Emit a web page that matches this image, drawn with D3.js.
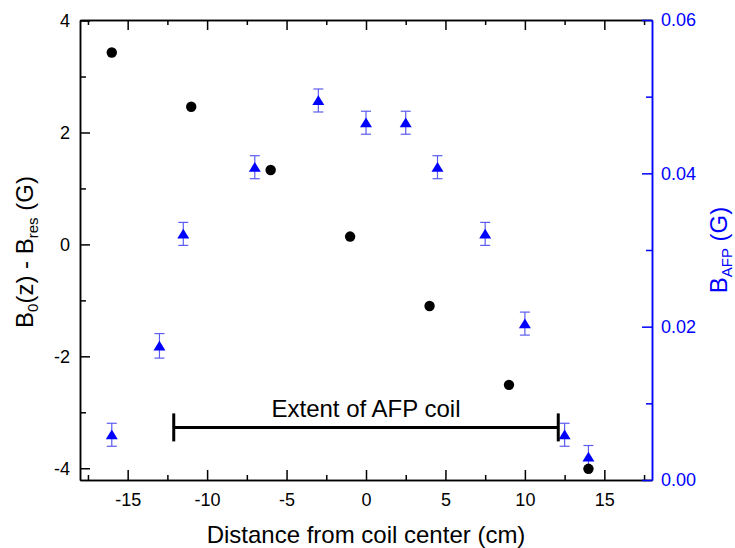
<!DOCTYPE html>
<html>
<head>
<meta charset="utf-8">
<script src="https://cdn.jsdelivr.net/npm/d3@7"></script>
<style>
  body { margin: 0; background: #fff; }
  svg { font-family: "Liberation Sans", Arial, sans-serif; }
</style>
</head>
<body>
<svg id="chart" width="735" height="548"></svg>
<script>
// black circles: B0(z) - Bres, left axis
const zCircle = [-16, -11, -6, -1, 4, 9, 14];
const bDiff = [3.43, 2.46, 1.33, 0.14, -1.10, -2.51, -4.01];

// blue triangles: B_AFP, right axis
const zTri = [-16, -13, -11.5, -7, -3, 0, 2.5, 4.5, 7.5, 10, 12.5, 14];
const bAfp = [0.0059, 0.0175, 0.0321, 0.0408, 0.0495, 0.0466, 0.0466, 0.0408, 0.0321, 0.0204, 0.0059, 0.0030];
const bAfpErr = [0.0015, 0.0016, 0.0015, 0.0015, 0.0015, 0.0015, 0.0015, 0.0015, 0.0015, 0.0015, 0.0015, 0.0015];

// tick values
const xMajor = [-15, -10, -5, 0, 5, 10, 15];
const xMinor = [-17.5, -12.5, -7.5, -2.5, 2.5, 7.5, 12.5, 17.5];
const yMajor = [-4, -2, 0, 2, 4];
const yMinor = [-3, -1, 1, 3];
const y2Major = [0, 0.02, 0.04, 0.06];
const y2Minor = [0.01, 0.03, 0.05];

// coil extent marker
const coilX = [-12.1, 12.1];
const coilY = -3.27;
const coilLabel = 'Extent of AFP coil';

const width = 735;
const height = 548;
const margin = { top: 20, right: 83, bottom: 68, left: 80 };
const innerW = width - margin.left - margin.right;
const innerH = height - margin.top - margin.bottom;
const blue = '#0000ff';

const x = d3.scaleLinear().domain([-18, 18]).range([0, innerW]);
const y = d3.scaleLinear().domain([-4.21, 4.01]).range([innerH, 0]);
const y2 = d3.scaleLinear().domain([0, 0.06]).range([innerH, 0]);

const svg = d3.select('#chart');
const g = svg.append('g')
  .attr('transform', `translate(${margin.left}, ${margin.top})`);

function styleAxis(sel, color) {
  sel.selectAll('path, line').attr('stroke', color).attr('stroke-width', 1.5);
  sel.selectAll('text').attr('fill', color).attr('font-size', '18px')
    .attr('font-family', '"Liberation Sans", Arial, sans-serif');
}

// bottom axis
g.append('g')
  .attr('transform', `translate(0, ${innerH})`)
  .call(d3.axisBottom(x).tickValues(xMajor).tickSize(-10).tickSizeOuter(0).tickPadding(13).tickFormat(d3.format('d')))
  .call(s => styleAxis(s, '#000'));
g.append('g')
  .attr('transform', `translate(0, ${innerH})`)
  .call(d3.axisBottom(x).tickValues(xMinor).tickSize(-5).tickSizeOuter(0).tickFormat(''))
  .call(s => styleAxis(s, '#000'));

// top axis (ticks only)
g.append('g')
  .call(d3.axisTop(x).tickValues(xMajor).tickSize(-10).tickSizeOuter(0).tickFormat(''))
  .call(s => styleAxis(s, '#000'));
g.append('g')
  .call(d3.axisTop(x).tickValues(xMinor).tickSize(-5).tickSizeOuter(0).tickFormat(''))
  .call(s => styleAxis(s, '#000'));

// left axis
g.append('g')
  .call(d3.axisLeft(y).tickValues(yMajor).tickSize(-10).tickSizeOuter(0).tickPadding(10).tickFormat(d3.format('d')))
  .call(s => styleAxis(s, '#000'));
g.append('g')
  .call(d3.axisLeft(y).tickValues(yMinor).tickSize(-6).tickSizeOuter(0).tickFormat(''))
  .call(s => styleAxis(s, '#000'));

// right axis (blue)
g.append('g')
  .attr('transform', `translate(${innerW}, 0)`)
  .call(d3.axisRight(y2).tickValues(y2Major).tickSize(-10).tickSizeOuter(0).tickPadding(9).tickFormat(d3.format('.2f')))
  .call(s => styleAxis(s, blue));
g.append('g')
  .attr('transform', `translate(${innerW}, 0)`)
  .call(d3.axisRight(y2).tickValues(y2Minor).tickSize(-6).tickSizeOuter(0).tickFormat(''))
  .call(s => styleAxis(s, blue));

// minus signs like the original (hyphen)
g.selectAll('.tick text').text(function() { return d3.select(this).text().replace('\u2212', '-'); });

// error bars for B_AFP
const triData = zTri.map((z, i) => ({ z: z, v: bAfp[i], e: bAfpErr[i] }));
const errCol = '#5c5cf0';
const err = g.append('g').selectAll('g').data(triData).enter().append('g');
err.append('line')
  .attr('x1', d => x(d.z)).attr('x2', d => x(d.z))
  .attr('y1', d => y2(d.v - d.e)).attr('y2', d => y2(d.v + d.e))
  .attr('stroke', errCol).attr('stroke-width', 1.2);
err.append('line')
  .attr('x1', d => x(d.z) - 5).attr('x2', d => x(d.z) + 5)
  .attr('y1', d => y2(d.v + d.e)).attr('y2', d => y2(d.v + d.e))
  .attr('stroke', errCol).attr('stroke-width', 1.2);
err.append('line')
  .attr('x1', d => x(d.z) - 5).attr('x2', d => x(d.z) + 5)
  .attr('y1', d => y2(d.v - d.e)).attr('y2', d => y2(d.v - d.e))
  .attr('stroke', errCol).attr('stroke-width', 1.2);

// triangles
g.append('g').selectAll('path').data(triData).enter().append('path')
  .attr('transform', d => `translate(${x(d.z)}, ${y2(d.v)})`)
  .attr('d', 'M0,-5.2L6,4.6L-6,4.6Z')
  .attr('fill', blue);

// circles
g.append('g').selectAll('circle').data(zCircle).enter().append('circle')
  .attr('cx', d => x(d))
  .attr('cy', (d, i) => y(bDiff[i]))
  .attr('r', 5.2)
  .attr('fill', '#000');

// coil extent bar
const coil = g.append('g').attr('stroke', '#000').attr('stroke-width', 3);
coil.append('line')
  .attr('x1', x(coilX[0])).attr('x2', x(coilX[1]))
  .attr('y1', y(coilY)).attr('y2', y(coilY));
coilX.forEach(cx => {
  coil.append('line')
    .attr('x1', x(cx)).attr('x2', x(cx))
    .attr('y1', y(coilY) - 14).attr('y2', y(coilY) + 14);
});
g.append('text')
  .attr('x', x((coilX[0] + coilX[1]) / 2))
  .attr('y', y(coilY) - 10.5)
  .attr('text-anchor', 'middle')
  .attr('font-size', '24px')
  .text(coilLabel);

// x label
svg.append('text')
  .attr('x', margin.left + innerW / 2)
  .attr('y', 543)
  .attr('text-anchor', 'middle')
  .attr('font-size', '24px')
  .text('Distance from coil center (cm)');

// left y label
const yl = svg.append('text')
  .attr('transform', 'translate(33, 252) rotate(-90)')
  .attr('text-anchor', 'middle')
  .attr('font-size', '24px');
yl.append('tspan').text('B');
yl.append('tspan').attr('font-size', '15px').attr('dy', 5).text('0');
yl.append('tspan').attr('dy', -5).text('(z) - B');
yl.append('tspan').attr('font-size', '15px').attr('dy', 5).text('res');
yl.append('tspan').attr('dy', -5).text(' (G)');

// right y label
const yr = svg.append('text')
  .attr('transform', 'translate(727, 250) rotate(-90)')
  .attr('text-anchor', 'middle')
  .attr('font-size', '24px')
  .attr('fill', blue);
yr.append('tspan').text('B');
yr.append('tspan').attr('font-size', '15px').attr('dy', 5).text('AFP');
yr.append('tspan').attr('dy', -5).text(' (G)');
</script>
</body>
</html>
